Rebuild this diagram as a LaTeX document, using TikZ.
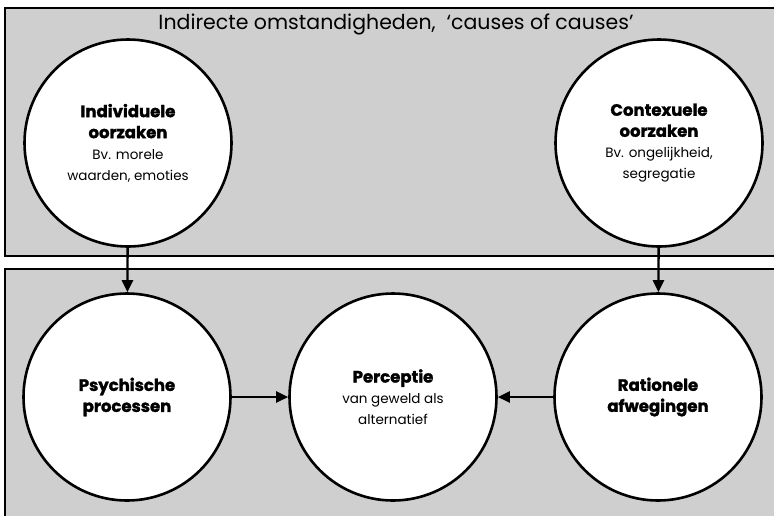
\documentclass[tikz,border=0pt]{standalone}
\usepackage{fontspec}
\setmainfont{Poppins}[BoldFeatures={FakeBold=1.6}]
\usetikzlibrary{arrows.meta}
\definecolor{panelgray}{RGB}{207,207,207}
\tikzset{
  panel/.style={draw=black, line width=2.8pt, fill=panelgray},
  bubble/.style={circle, draw=black, line width=2.6pt, fill=white, minimum size=207pt, inner sep=0pt, align=center, font=\fontsize{13.5}{21}\selectfont},
  link/.style={line width=2.4pt, -{Triangle[length=12pt,width=11pt]}}
}
\newcommand{\hdtext}[1]{{\fontsize{16.5}{24}\selectfont\bfseries #1}}
\begin{document}
\begin{tikzpicture}[x=1pt,y=-1pt]
\useasboundingbox (0,0) rectangle (774,515);
\clip (0,0) rectangle (774,515);
\fill[white] (0,0) rectangle (774,515);
% panels
\draw[panel] (5,8) rectangle (790,256);
\draw[panel] (5,269) rectangle (790,530);
\node[font=\fontsize{20.5}{24}\selectfont, anchor=center] (title) at (396,24) {Indirecte omstandigheden,\ \ ‘causes of causes’};
% circles
\node[bubble] (ind) at (128,143) {\hdtext{Individuele}\\\hdtext{oorzaken}\\Bv. morele\\waarden, emoties};
\node[bubble] (con) at (659,143) {\hdtext{Contexuele}\\\hdtext{oorzaken}\\Bv. ongelijkheid,\\segregatie};
\node[bubble] (psy) at (127,397) {\hdtext{Psychische}\\\hdtext{processen}};
\node[bubble] (per) at (393,397) {\hdtext{Perceptie}\\van geweld als\\alternatief};
\node[bubble] (rat) at (658,397) {\hdtext{Rationele}\\\hdtext{afwegingen}};
% connectors
\draw[link] (ind) -- (psy);
\draw[link] (con) -- (rat);
\draw[link] (psy) -- (per);
\draw[link] (rat) -- (per);
\end{tikzpicture}
\end{document}
